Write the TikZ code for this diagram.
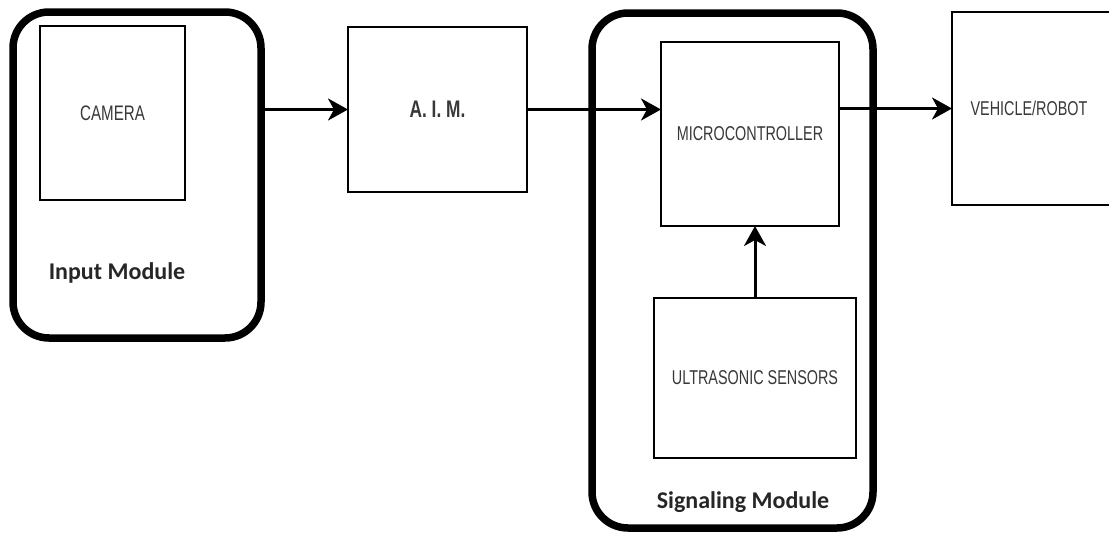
\documentclass[tikz,border=0pt]{standalone}
\usepackage{fontspec}
\setmainfont{Carlito}
\newfontfamily\narrowfont[FakeStretch=0.72]{Liberation Sans}
\usetikzlibrary{arrows.meta}

\begin{document}
\begin{tikzpicture}[x=1pt,y=-1pt,
  block/.style={draw, line width=2pt, rectangle, inner sep=0pt, outer sep=0pt,
    text=black!78, font=\narrowfont\fontsize{20}{24}\selectfont},
  module/.style={draw, line width=7.5pt, rectangle, rounded corners=36pt,
    inner sep=0pt, outer sep=0pt},
  modlabel/.style={font=\bfseries\fontsize{24}{28}\selectfont, text=black!85},
  arr/.style={line width=3pt, -{Stealth[length=20pt,width=22pt,inset=6pt]}}]
\useasboundingbox (0,0) rectangle (1109,533);
\fill[white] (0,0) rectangle (1109,533);

% module outlines
\node[module, minimum width=248pt, minimum height=326pt] (input) at (137,175) {};
\node[module, minimum width=281pt, minimum height=515pt] (signal) at (732.5,270.5) {};

% blocks
\node[block, minimum width=145pt, minimum height=174pt] (camera) at (112.5,113)
  {\fontsize{21}{24}\selectfont CAMERA};
\node[block, minimum width=179pt, minimum height=165pt] (aim) at (437.5,109.5)
  {\bfseries\fontsize{24}{28}\selectfont A. I. M.};
\node[block, minimum width=178pt, minimum height=184pt] (micro) at (750,134) {MICROCONTROLLER};
\node[block, minimum width=202pt, minimum height=160pt] (us) at (755,378) {ULTRASONIC SENSORS};
\node[block, minimum width=170pt, minimum height=193pt] (vehicle) at (1037,108.5) {\hspace*{-16pt}VEHICLE/ROBOT};

% module captions
\node[modlabel] (inlabel) at (117,273) {Input Module};
\node[modlabel] (siglabel) at (743,502) {Signaling Module};

% signal flow
\draw[arr] (input.east |- aim.west) -- (aim.west);
\draw[arr] (aim.east) -- (aim.east -| micro.west);
\draw[arr] (micro.east |- vehicle.west) -- (vehicle.west);
\draw[arr] (us.north) -- (us.north |- micro.south);
\end{tikzpicture}
\end{document}
